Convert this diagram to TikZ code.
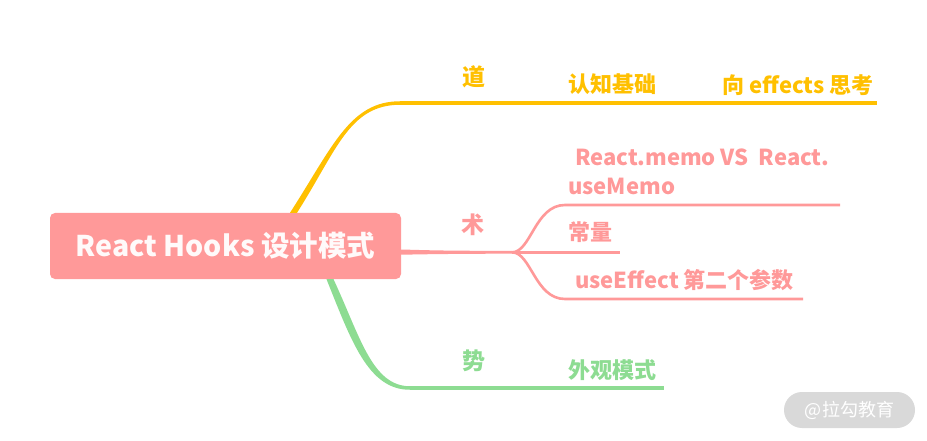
\documentclass[tikz,border=0pt]{standalone}
\usepackage{fontspec}
\setmainfont{Noto Sans CJK SC}
\usetikzlibrary{calc}
\definecolor{yel}{HTML}{FFC000}
\definecolor{pnk}{HTML}{FF9999}
\definecolor{grn}{HTML}{8DDC92}
\definecolor{wmgray}{HTML}{D9D9D9}
\begin{document}
\begin{tikzpicture}[x=1pt,y=-1pt,
  branchlbl/.style={font=\fontsize{23}{26}\selectfont\bfseries, inner sep=0pt},
  leaflbl/.style={font=\fontsize{22}{29}\selectfont\bfseries, inner sep=0pt},
  twig/.style={line width=2.6pt},
  limb/.style={line width=3.5pt}]
\useasboundingbox[fill=white] (0,0) rectangle (927,441);

% root
\node[fill=pnk, rounded corners=5pt, minimum width=351pt, minimum height=66pt,
      inner sep=0pt, text=white!95!pnk, font=\fontsize{28.5}{30}\selectfont\bfseries]
      (root) at (225.5,246) {React Hooks 设计模式};

% hub and ends
\coordinate (yturn) at (400,103);
\coordinate (yend) at (877,103);
\coordinate (hub) at (512,252.3);
\coordinate (pend1) at (840,205);
\coordinate (pend2) at (620,252.3);
\coordinate (pend3) at (803,299);
\coordinate (gturn) at (410,388);
\coordinate (gend) at (664,388);

% yellow branch
\fill[yel] ($(root.north)+(64.5,0)$) .. controls (333,146) and (350,101.3) .. ($(yturn)+(0,-1.75)$)
  -- ($(yturn)+(0,1.75)$) .. controls (349,105) and (337,150) .. ($(root.north)+(71.5,0)$) -- cycle;
\draw[yel, limb] (yturn) -- (yend);

% pink branch
\fill[pnk] ($(root.east)+(0,3.5)$) .. controls (440,250.6) .. ($(hub)+(0,-1.3)$)
  -- ($(hub)+(0,1.3)$) .. controls (440,254) .. ($(root.east)+(0,8.7)$) -- cycle;
\draw[pnk, twig] (hub) .. controls (531,252.3) and (535,205) .. (565,205) -- (pend1);
\draw[pnk, twig] (hub) -- (pend2);
\draw[pnk, twig] (hub) .. controls (531,252.3) and (535,299) .. (565,299) -- (pend3);

% green branch
\fill[grn] ($(root.south)+(108,0)$) .. controls (360,336) and (372,386.25) .. ($(gturn)+(0,-1.75)$)
  -- ($(gturn)+(0,1.75)$) .. controls (368,390) and (351,340) .. ($(root.south)+(101,0)$) -- cycle;
\draw[grn, limb] (gturn) -- (gend);

% labels
\node[branchlbl, text=yel] (dao) at (474,77) {道};
\node[leaflbl, text=yel] (l1) at (612,84) {认知基础};
\node[leaflbl, text=yel] (l2) at (798,85) {向 effects 思考};

\node[branchlbl, text=pnk] (shu) at (473,225) {术};
\node[leaflbl, text=pnk, align=left, anchor=west] (l3) at (568,171.5)
  {\hspace*{7pt}React.memo VS\ \ React.\\useMemo};
\node[leaflbl, text=pnk] (l4) at (590,232) {常量};
\node[leaflbl, text=pnk, anchor=west] (l5) at (575,280) {useEffect 第二个参数};

\node[branchlbl, text=grn] (shi) at (474,361) {势};
\node[leaflbl, text=grn] (l6) at (612,370) {外观模式};

% watermark
\node[fill=wmgray, rounded corners=18pt, minimum width=131pt, minimum height=36pt,
      inner sep=0pt, text=white, font=\fontsize{18}{20}\selectfont] (wm) at (849.5,410) {@拉勾教育};
\end{tikzpicture}
\end{document}
